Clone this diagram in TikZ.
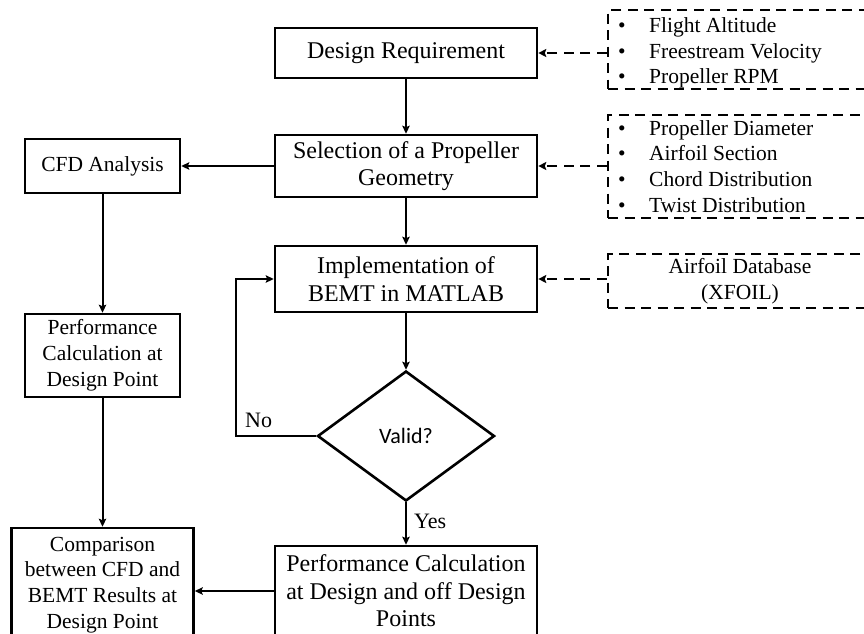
\documentclass[tikz,border=0pt]{standalone}
\usepackage{fontspec}
\setmainfont{Liberation Serif}
\newfontfamily\calib{Carlito}
\usetikzlibrary{arrows.meta,shapes.geometric,calc}
\begin{document}
\begin{tikzpicture}[x=1pt,y=-1pt,
  mainbox/.style={draw=black,line width=2.6pt,rectangle,inner sep=0pt,align=center,
    font=\fontsize{24}{27.5}\selectfont},
  sidebox/.style={draw=black,line width=2.6pt,rectangle,inner sep=0pt,align=center,
    font=\fontsize{21.5}{25.8}\selectfont},
  dbox/.style={draw=black,line width=2.8pt,dash pattern=on 10pt off 6.5pt,rectangle,inner sep=0pt,align=center,
    font=\fontsize{21.5}{26}\selectfont},
  arr/.style={draw=black,line width=2pt,-{Stealth[length=8pt,width=7.5pt,inset=1.5pt]}},
  darr/.style={draw=black,line width=2.8pt,dash pattern=on 10pt off 6.5pt,-{Stealth[length=8pt,width=8pt,inset=1.5pt]}},
  lbl/.style={font=\fontsize{22}{24}\selectfont,inner sep=0pt,anchor=base west},
  itemtxt/.style={font=\fontsize{21.5}{24}\selectfont,inner sep=0pt,anchor=base west},
  bul/.style={font=\fontsize{21.5}{24}\selectfont,inner sep=0pt,anchor=base}
]
\useasboundingbox (0,0) rectangle (864,633);
\clip (0,0) rectangle (864,633);

% main column
\node[mainbox,minimum width=262pt,minimum height=50pt] (dr) at (406,53) {Design Requirement};
\node[mainbox,minimum width=262pt,minimum height=62pt] (sel) at (406,166) {Selection of a Propeller\\Geometry};
\node[mainbox,minimum width=262pt,minimum height=66pt] (impl) at (406,279) {Implementation of\\BEMT in MATLAB};
\node[draw=black,line width=2.6pt,diamond,inner sep=0pt,minimum width=177pt,minimum height=130pt,
  font=\calib\fontsize{22}{24}\selectfont] (valid) at (406,436) {Valid?};
\node[mainbox,minimum width=262pt,minimum height=90pt] (perf) at (406,591) {Performance Calculation\\at Design and off Design\\Points};

% left column
\node[sidebox,minimum width=155pt,minimum height=54pt] (cfd) at (102.5,166) {CFD Analysis};
\node[sidebox,minimum width=155pt,minimum height=83pt] (pcdp) at (102.5,355.5) {Performance\\Calculation at\\Design Point};
\node[sidebox,minimum width=182pt,minimum height=114pt] (comp) at (102.5,585) {Comparison\\between CFD and\\BEMT Results at\\Design Point};

% right dashed boxes
\node[dbox,minimum width=264pt,minimum height=79pt] (rb1) at (740,49.5) {};
\node[dbox,minimum width=264pt,minimum height=103pt] (rb2) at (740,166.5) {};
\node[dbox,minimum width=264pt,minimum height=54pt] (rb3) at (740,281) {Airfoil Database\\(XFOIL)};

% items
\node[bul] (b1) at (622,32) {•};
\node[itemtxt] (t1) at (649,32) {Flight Altitude};
\node[bul] (b2) at (622,58) {•};
\node[itemtxt] (t2) at (649,58) {Freestream Velocity};
\node[bul] (b3) at (622,83) {•};
\node[itemtxt] (t3) at (649,83) {Propeller RPM};

\node[bul] (b4) at (622,135) {•};
\node[itemtxt] (t4) at (649,135) {Propeller Diameter};
\node[bul] (b5) at (622,160) {•};
\node[itemtxt] (t5) at (649,160) {Airfoil Section};
\node[bul] (b6) at (622,186) {•};
\node[itemtxt] (t6) at (649,186) {Chord Distribution};
\node[bul] (b7) at (622,212) {•};
\node[itemtxt] (t7) at (649,212) {Twist Distribution};

% connectors
\draw[arr] (dr.south) -- (sel.north);
\draw[arr] (sel.south) -- (impl.north);
\draw[arr] (impl.south) -- (valid.north);
\draw[arr] (valid.south) -- (perf.north);
\coordinate (nc) at (236,436);
\draw[arr] (valid.west) -- (nc) |- (impl.west);
\draw[arr] (sel.west) -- (cfd.east);
\draw[arr] (cfd.south) -- (pcdp.north);
\draw[arr] (pcdp.south) -- (comp.north);
\draw[arr] (perf.west) -- (perf.west -| comp.east);

\draw[darr] (dr.east -| rb1.west) -- (dr.east);
\draw[darr] (sel.east -| rb2.west) -- (sel.east);
\draw[darr] (impl.east -| rb3.west) -- (impl.east);

\node[lbl] (no) at (245,427) {No};
\node[lbl] (yes) at (414,528) {Yes};
\end{tikzpicture}
\end{document}
